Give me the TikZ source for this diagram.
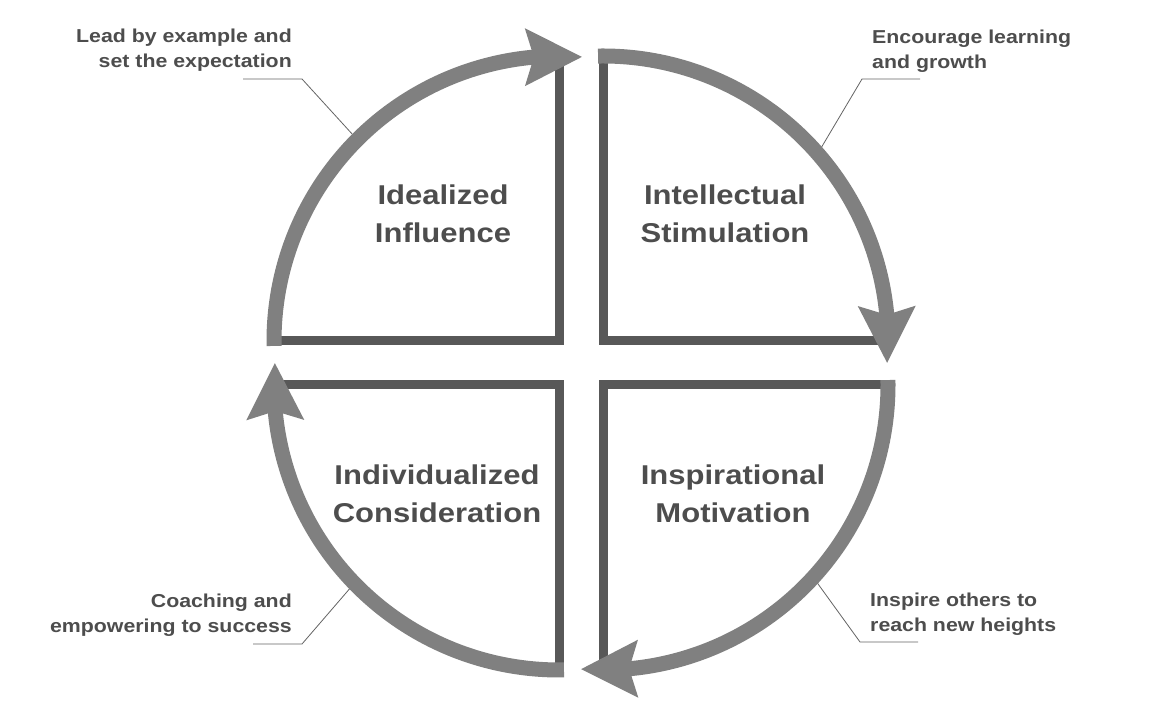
\documentclass[tikz,border=0pt]{standalone}
\usepackage{fontspec}
\usepackage{tikz}
\usetikzlibrary{arrows.meta,bending}
\newfontfamily\labelfont[FakeStretch=1.14]{Liberation Sans}
\definecolor{ringgray}{RGB}{128,128,128}
\definecolor{bargray}{RGB}{88,88,88}
\definecolor{textgray}{RGB}{77,77,77}
\definecolor{linegray}{RGB}{100,100,100}

\begin{document}
\begin{tikzpicture}[x=1pt, y=1pt,
    ring/.style={draw=ringgray, line width=15pt, -{Stealth[length=57pt, width=58pt, inset=9pt, line width=0pt]}},
    bar/.style={draw=bargray, line width=9pt, line join=miter},
    title/.style={align=center, anchor=base, inner sep=0pt, text=textgray, font=\labelfont\bfseries\fontsize{27.2}{38}\selectfont},
    note/.style={inner sep=0pt, text=textgray, font=\labelfont\bfseries\fontsize{18.7}{25.5}\selectfont},
    callout/.style={draw=linegray, line width=0.8pt}
]
\fill[white] (0,0) rectangle (1172,719);
\useasboundingbox (0,0) rectangle (1172,719);

\coordinate (tl) at (559,378);
\coordinate (tr) at (603,378);
\coordinate (br) at (603,334);
\coordinate (bl) at (559,334);

% quadrant edges
\draw[bar] (tl) ++(0,285) -- (tl) -- ++(-285,0);
\draw[bar] (tr) ++(0,285) -- (tr) -- ++(285,0);
\draw[bar] (br) ++(285,0) -- (br) -- ++(0,-285);
\draw[bar] (bl) ++(0,-285) -- (bl) -- ++(-285,0);

% callouts
\path (tl) ++(135:291) coordinate (tl-pin);
\path (tr) ++(41.5:291) coordinate (tr-pin);
\path (br) ++(-42.7:291) coordinate (br-pin);
\path (bl) ++(224.2:291) coordinate (bl-pin);
\coordinate (tl-tail) at (243,640); \coordinate (tl-elbow) at (302,640);
\coordinate (tr-tail) at (920,640); \coordinate (tr-elbow) at (862,640);
\coordinate (br-tail) at (918,77);  \coordinate (br-elbow) at (860,77);
\coordinate (bl-tail) at (253,75);  \coordinate (bl-elbow) at (302,75);
\draw[callout] (tl-tail) -- (tl-elbow) -- (tl-pin);
\draw[callout] (tr-tail) -- (tr-elbow) -- (tr-pin);
\draw[callout] (br-tail) -- (br-elbow) -- (br-pin);
\draw[callout] (bl-tail) -- (bl-elbow) -- (bl-pin);

% cycle
\draw[ring] (tl) ++(181:285) arc[start angle=181, end angle=85.4, radius=285pt];
\draw[ring] (tr) ++(91:285) arc[start angle=91, end angle=-4.4, radius=285pt];
\draw[ring] (br) ++(1:285) arc[start angle=1, end angle=-94.4, radius=285pt];
\draw[ring] (bl) ++(-89:285) arc[start angle=-89, end angle=-184.4, radius=285pt];

\node[title] (ideal) at (443,476) {Idealized\\Influence};
\node[title] (intel) at (725,476) {Intellectual\\Stimulation};
\node[title] (indiv) at (437,196) {Individualized\\Consideration};
\node[title] (inspi) at (733,196) {Inspirational\\Motivation};

\node[note, align=right, anchor=base east] (lead) at (292,651) {Lead by example and\\set the expectation};
\node[note, align=left, anchor=base west] (grow) at (872,650) {Encourage learning\\and growth};
\node[note, align=right, anchor=base east] (coach) at (292,86) {Coaching and\\empowering to success};
\node[note, align=left, anchor=base west] (reach) at (870,87) {Inspire others to\\reach new heights};
\end{tikzpicture}
\end{document}
